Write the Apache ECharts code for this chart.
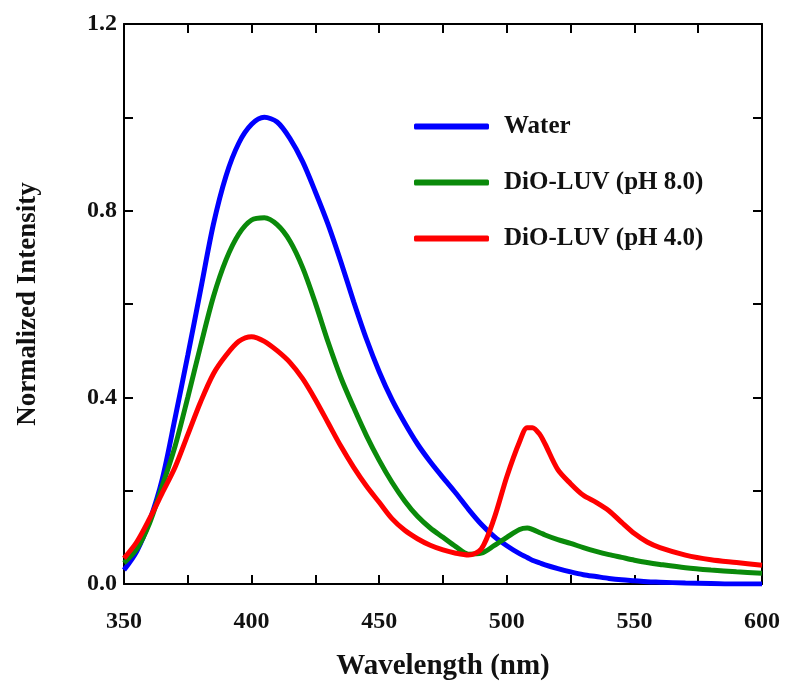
<!DOCTYPE html>
<html lang="en">
<head>
    <meta charset="UTF-8">
    <title>Normalized Intensity</title>
    <script src="https://cdn.jsdelivr.net/npm/echarts@6/dist/echarts.min.js"></script>
    <style>
        html, body { margin: 0; padding: 0; background: #fff; }
        #chart { width: 787px; height: 687px; }
    </style>
</head>
<body>
<div id="chart"></div>
<script type="text/javascript">
    // wavelength (nm), shared by every curve
    var wavelength = [350,355,360,365,370,375,380,385,390,395,400,405,410,415,420,425,430,435,440,445,450,455,460,465,470,475,480,485,490,495,500,505,508,510,513,515,520,525,530,535,540,545,550,555,560,570,580,590,600];
    var water = [0.03,0.07,0.135,0.225,0.355,0.49,0.63,0.77,0.875,0.945,0.985,1.0,0.99,0.955,0.905,0.84,0.77,0.69,0.605,0.525,0.455,0.395,0.345,0.30,0.262,0.228,0.195,0.16,0.128,0.102,0.082,0.065,0.057,0.051,0.045,0.041,0.033,0.026,0.02,0.016,0.012,0.009,0.007,0.005,0.004,0.002,0.001,0.0,0.0];
    var ph8 = [0.045,0.075,0.13,0.21,0.295,0.40,0.51,0.615,0.695,0.75,0.78,0.785,0.77,0.735,0.678,0.602,0.518,0.442,0.378,0.318,0.265,0.218,0.178,0.145,0.12,0.10,0.08,0.064,0.066,0.082,0.10,0.117,0.12,0.117,0.11,0.105,0.095,0.087,0.078,0.07,0.063,0.057,0.051,0.046,0.042,0.035,0.03,0.026,0.023];
    var ph4 = [0.055,0.09,0.14,0.195,0.25,0.32,0.39,0.45,0.49,0.52,0.53,0.52,0.50,0.475,0.44,0.395,0.345,0.295,0.25,0.21,0.175,0.14,0.115,0.097,0.083,0.073,0.066,0.062,0.075,0.14,0.23,0.305,0.335,0.335,0.32,0.30,0.245,0.215,0.19,0.175,0.157,0.132,0.108,0.09,0.078,0.062,0.052,0.046,0.04];
    var seriesNames = ['Water', 'DiO-LUV (pH 8.0)', 'DiO-LUV (pH 4.0)'];
    var seriesColors = ['#0000ff', '#0a8a0a', '#ff0000'];

    function pairs(values) {
        var out = [];
        for (var i = 0; i < wavelength.length; i++) {
            out.push([wavelength[i], values[i]]);
        }
        return out;
    }

    var font = '"Liberation Serif", "Times New Roman", serif';
    var axisLine = { show: true, onZero: false, lineStyle: { color: '#000', width: 2 } };
    var tick = { show: true, inside: true, length: 9, lineStyle: { color: '#000', width: 2 } };
    var minor = { show: true, splitNumber: 2, length: 9, lineStyle: { color: '#000', width: 2 } };

    var myChart = echarts.init(document.getElementById('chart'));
    var option = {
        backgroundColor: '#fff',
        animation: false,
        grid: { left: 124, top: 24, right: 25, bottom: 103 },
        legend: {
            orient: 'vertical',
            left: 409,
            top: 109,
            itemWidth: 75,
            itemHeight: 6,
            itemGap: 31,
            icon: 'roundRect',
            data: seriesNames,
            textStyle: { fontFamily: font, fontWeight: 'bold', fontSize: 25, color: '#111', padding: [0, 0, 0, 10] }
        },
        xAxis: [{
            type: 'value',
            min: 350, max: 600, interval: 50,
            name: 'Wavelength (nm)',
            nameLocation: 'middle',
            nameGap: 68,
            nameTextStyle: { fontFamily: font, fontWeight: 'bold', fontSize: 29, color: '#111' },
            axisLine: axisLine,
            axisTick: tick,
            minorTick: minor,
            axisLabel: { margin: 26, fontFamily: font, fontWeight: 'bold', fontSize: 24, color: '#111' },
            splitLine: { show: false }
        }, {
            type: 'value', position: 'top',
            min: 350, max: 600, interval: 50,
            axisLine: axisLine,
            axisTick: tick,
            minorTick: minor,
            axisLabel: { show: false },
            splitLine: { show: false }
        }],
        yAxis: [{
            type: 'value',
            min: 0, max: 1.2, interval: 0.4,
            name: 'Normalized Intensity',
            nameLocation: 'middle',
            nameGap: 82,
            nameTextStyle: { fontFamily: font, fontWeight: 'bold', fontSize: 27, color: '#111' },
            axisLine: axisLine,
            axisTick: tick,
            minorTick: minor,
            axisLabel: {
                margin: 7, fontFamily: font, fontWeight: 'bold', fontSize: 24, color: '#111',
                formatter: function (v) { return v.toFixed(1); }
            },
            splitLine: { show: false }
        }, {
            type: 'value', position: 'right',
            min: 0, max: 1.2, interval: 0.4,
            axisLine: axisLine,
            axisTick: tick,
            minorTick: minor,
            axisLabel: { show: false },
            splitLine: { show: false }
        }],
        series: [water, ph8, ph4].map(function (vals, i) {
            return {
                name: seriesNames[i],
                type: 'line',
                smooth: 0.3,
                showSymbol: false,
                color: seriesColors[i],
                lineStyle: { width: 5, color: seriesColors[i] },
                data: pairs(vals)
            };
        })
    };
    myChart.setOption(option);
</script>
</body>
</html>
